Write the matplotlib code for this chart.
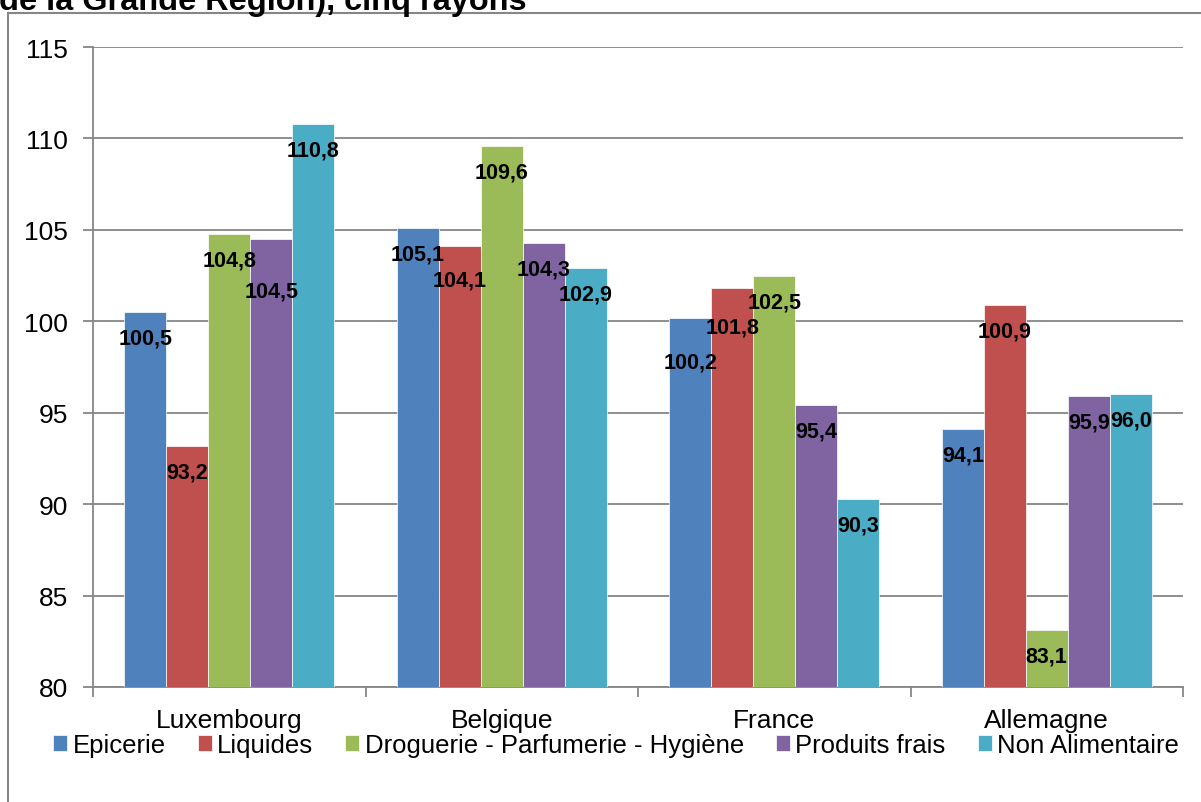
import numpy as np
import matplotlib.pyplot as plt
from matplotlib.patches import Rectangle
from matplotlib.ticker import MultipleLocator

plt.rcParams['font.family'] = ['Liberation Sans', 'DejaVu Sans']

# Data
countries = ['Luxembourg', 'Belgique', 'France', 'Allemagne']
rayons = ['Epicerie', 'Liquides', 'Droguerie - Parfumerie - Hygiène',
          'Produits frais', 'Non Alimentaire']
epicerie = [100.5, 105.1, 100.2, 94.1]
liquides = [93.2, 104.1, 101.8, 100.9]
droguerie = [104.8, 109.6, 102.5, 83.1]
produits_frais = [104.5, 104.3, 95.4, 95.9]
non_alimentaire = [110.8, 102.9, 90.3, 96.0]
series = [epicerie, liquides, droguerie, produits_frais, non_alimentaire]

colors = ['#4F81BD', '#C0504D', '#9BBB59', '#8064A2', '#4BACC6']
# extra downward shift (pixels) of some labels, as moved in the original to avoid overlaps
label_shift = {(3, 0): 26, (1, 1): 8, (0, 2): 18, (1, 2): 13}

fig = plt.figure(figsize=(12.01, 8.03), dpi=100)
ax = fig.add_axes([93 / 1201, 1 - 688 / 803, (1183 - 93) / 1201, (688 - 48) / 803])

x = np.arange(len(countries))
width = 0.154
grid_c = '#868686'
px = 72 / 100  # points per pixel

for i, vals in enumerate(series):
    pos = x + (i - 2) * width
    ax.bar(pos, np.array(vals) - 80, width, bottom=80, color=colors[i],
           edgecolor='white', linewidth=0.5, label=rayons[i], zorder=3)
    for j, v in enumerate(vals):
        dy = 26 + label_shift.get((i, j), 0)
        ax.annotate(f'{v:.1f}'.replace('.', ','), (pos[j], v),
                    xytext=(0, -dy * px), textcoords='offset points',
                    ha='center', va='center', fontsize=15.5, fontweight='bold',
                    zorder=4)

ax.set_ylim(80, 115)
ax.set_xlim(-0.5, len(countries) - 0.5)
ax.yaxis.set_major_locator(MultipleLocator(5))
ax.grid(axis='y', color=grid_c, linewidth=1.3, zorder=0)

ax.set_xticks(np.arange(len(countries) + 1) - 0.5)
ax.set_xticklabels([])
ax.set_xticks(x, minor=True)
ax.set_xticklabels(countries, minor=True, fontsize=19)
ax.tick_params(axis='x', which='minor', length=0, pad=15)
ax.tick_params(axis='x', which='major', length=7, color=grid_c, width=1.3)
ax.tick_params(axis='y', length=7, color=grid_c, width=1.3, labelsize=19, pad=11)

for s in ['top', 'right']:
    ax.spines[s].set_visible(False)
for s in ['left', 'bottom']:
    ax.spines[s].set_color(grid_c)
    ax.spines[s].set_linewidth(1.3)

fig.legend(loc='center', bbox_to_anchor=(616 / 1201, 1 - 746 / 803), ncol=5, frameon=False,
           fontsize=18.5, handlelength=0.55, handleheight=0.55, handletextpad=0.2,
           columnspacing=1.25, borderaxespad=0)

# chart frame, cut by the image edges
fig.patches.append(Rectangle((8 / 1201, -0.05), 1.1, 1 - 14 / 803 + 0.05,
                             transform=fig.transFigure, fill=False,
                             edgecolor=grid_c, linewidth=1.5))

fig.text(-0.001, 1 - 10 / 803, 'de la Grande Région), cinq rayons', fontsize=23.4,
         fontweight='bold', ha='left', va='baseline')

fig.savefig('out.png', dpi=100)
